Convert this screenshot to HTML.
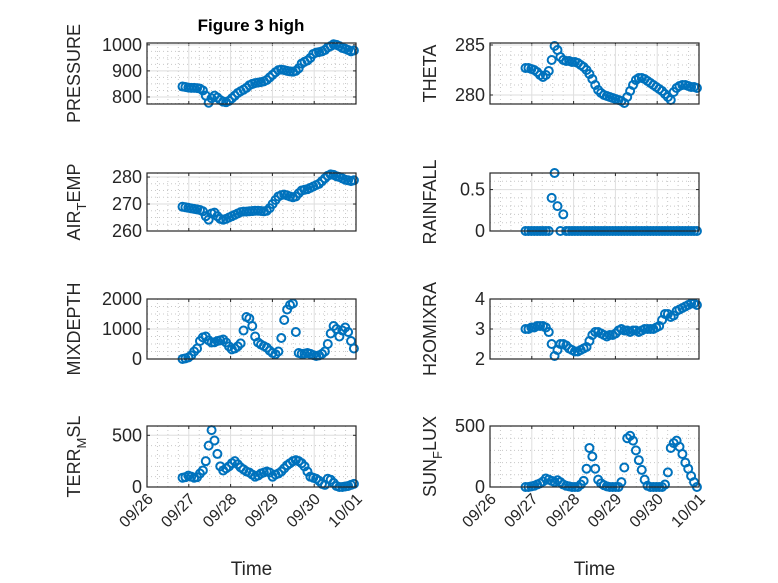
<!DOCTYPE html>
<html><head><meta charset="utf-8"><style>
body{margin:0;background:#fff;}
svg{display:block;font-family:"Liberation Sans","DejaVu Sans",sans-serif;}
</style></head><body>
<svg id="fig" width="778" height="583" viewBox="0 0 778 583" xmlns="http://www.w3.org/2000/svg">
<rect width="778" height="583" fill="#fff"/>
<text x="251" y="31" text-anchor="middle" font-size="17" font-weight="bold" fill="#000">Figure 3 high</text>
</svg>
<script>
const xTickLabels = ["09/26","09/27","09/28","09/29","09/30","10/01"];
const tStart = 0.85, tStep = 0.0695;
const pressure = [840,838,836,835,835,834,832,825,805,778,795,805,798,788,782,780,785,795,805,815,822,828,835,845,850,853,855,857,860,865,875,885,895,903,905,903,900,898,897,900,910,928,935,940,950,965,970,972,975,980,990,995,1002,1000,995,988,985,980,975,978];
const theta = [282.7,282.7,282.6,282.5,282.3,282.0,281.8,282.0,282.4,283.5,284.9,284.5,283.8,283.5,283.4,283.4,283.3,283.3,283.2,283.0,282.8,282.5,282.1,281.6,281.0,280.5,280.2,280.0,279.9,279.8,279.7,279.6,279.5,279.4,279.2,279.8,280.4,281.0,281.5,281.7,281.7,281.6,281.4,281.2,281.0,280.8,280.6,280.4,280.1,279.8,279.5,280.3,280.7,280.9,281.0,281.0,280.9,280.8,280.8,280.7];
const airTemp = [269,268.8,268.6,268.4,268.2,268,267.8,267.3,265.5,264.2,266.5,266.8,265.5,264.5,264.2,264.5,265,265.5,266,266.5,267,267.2,267.2,267.3,267.4,267.5,267.5,267.4,267.3,267.5,268.5,270,271.5,272.8,273.3,273.5,273.2,272.8,272.5,272.8,274,275,275.3,275.5,276,276.5,277,277.5,278.5,279.5,280.5,281,280.8,280.3,280,279.5,279,278.8,278.5,278.8];
const rainfall = [0,0,0,0,0,0,0,0,0,0.4,0.7,0.3,0,0.2,0,0,0,0,0,0,0,0,0,0,0,0,0,0,0,0,0,0,0,0,0,0,0,0,0,0,0,0,0,0,0,0,0,0,0,0,0,0,0,0,0,0,0,0,0,0];
const mixDepth = [0,20,50,120,250,350,600,720,750,620,550,560,600,620,650,550,420,320,350,420,520,950,1400,1350,1100,750,550,480,430,380,280,200,160,250,700,1300,1650,1800,1850,900,200,170,180,200,170,130,100,120,170,250,500,850,1100,1000,750,950,1050,900,600,350];
const h2oMix = [3.0,3.0,3.05,3.05,3.1,3.1,3.1,3.05,2.9,2.5,2.1,2.3,2.5,2.5,2.45,2.35,2.3,2.25,2.25,2.3,2.35,2.4,2.6,2.8,2.9,2.9,2.85,2.8,2.75,2.8,2.8,2.85,2.95,3.0,2.95,2.95,2.9,2.95,2.95,2.9,2.95,3.0,3.0,3.0,3.0,3.05,3.1,3.3,3.5,3.5,3.4,3.45,3.6,3.65,3.7,3.75,3.8,3.85,3.85,3.8];
const terrMsl = [90,95,110,100,90,95,130,160,250,400,550,450,320,200,160,180,200,230,250,220,190,170,150,140,120,100,110,130,140,150,140,100,120,130,150,180,210,230,250,260,250,230,200,150,100,90,80,60,30,20,80,70,40,10,0,0,5,10,20,30];
const sunFlux = [0,0,5,10,20,30,45,70,60,50,40,55,40,20,10,5,0,0,0,20,50,150,320,250,150,60,30,15,5,0,0,0,0,40,160,400,420,380,300,220,140,60,10,0,0,0,0,0,20,120,320,360,380,330,270,200,150,90,40,0];

const NS="http://www.w3.org/2000/svg";
const svg=document.getElementById('fig');
function mk(tag,attrs,parent){const e=document.createElementNS(NS,tag);for(const k in attrs)e.setAttribute(k,attrs[k]);(parent||svg).appendChild(e);return e;}

const panels=[
 {name:'pressure',data:pressure,x0:147,x1:356,y0:43,y1:104,ymin:773,ymax:1007,ticks:[800,900,1000],minor:25,label:['PRESSURE'],lx:80,bottom:false},
 {name:'theta',data:theta,x0:490,x1:699,y0:43,y1:104,ymin:279.1,ymax:285.2,ticks:[280,285],minor:1,label:['THETA'],lx:436,bottom:false},
 {name:'air-temp',data:airTemp,x0:147,x1:356,y0:173,y1:231,ymin:260,ymax:281.5,ticks:[260,270,280],minor:2.5,label:['AIR','T','EMP'],lx:80,bottom:false},
 {name:'rainfall',data:rainfall,x0:490,x1:699,y0:173,y1:231,ymin:0,ymax:0.7,ticks:[0,0.5],minor:0.1,label:['RAINFALL'],lx:436,bottom:false},
 {name:'mixdepth',data:mixDepth,x0:147,x1:356,y0:299,y1:359,ymin:0,ymax:2000,ticks:[0,1000,2000],minor:250,label:['MIXDEPTH'],lx:80,bottom:false},
 {name:'h2o-mix',data:h2oMix,x0:490,x1:699,y0:299,y1:359,ymin:2,ymax:4,ticks:[2,3,4],minor:0.25,label:['H2OMIXRA'],lx:436,bottom:false},
 {name:'terr-msl',data:terrMsl,x0:147,x1:356,y0:426,y1:487,ymin:0,ymax:590,ticks:[0,500],minor:100,label:['TERR','M','SL'],lx:80,bottom:true},
 {name:'sun-flux',data:sunFlux,x0:490,x1:699,y0:426,y1:487,ymin:0,ymax:500,ticks:[0,500],minor:100,label:['SUN','F','LUX'],lx:436,bottom:true}
];

panels.forEach(p=>{
 const g=mk('g',{});
 
 
 const xs=t=>p.x0+(p.x1-p.x0)*t/5;
 const ys=v=>p.y1-(p.y1-p.y0)*(v-p.ymin)/(p.ymax-p.ymin);
 for(let t=0.25;t<5;t+=0.25){ if(Math.abs(t-Math.round(t))<1e-6) continue;
  mk('line',{x1:xs(t),x2:xs(t),y1:p.y0,y2:p.y1,stroke:'#c8c8c8','stroke-width':1,'stroke-dasharray':'1,3'},g);}
 for(let v=Math.ceil(p.ymin/p.minor)*p.minor;v<p.ymax;v+=p.minor){ if(p.ticks.some(k=>Math.abs(k-v)<1e-9)) continue;
  mk('line',{x1:p.x0,x2:p.x1,y1:ys(v),y2:ys(v),stroke:'#c8c8c8','stroke-width':1,'stroke-dasharray':'1,3'},g);}
 xTickLabels.forEach((lab,i)=>{const x=xs(i);
  mk('line',{x1:x,x2:x,y1:p.y0,y2:p.y1,stroke:'#dedede','stroke-width':1},g);
  mk('line',{x1:x,x2:x,y1:p.y1,y2:p.y1-3,stroke:'#262626'},g);
  mk('line',{x1:x,x2:x,y1:p.y0,y2:p.y0+3,stroke:'#262626'},g);
  if(p.bottom){const ax=x+7, ay=p.y1+13;
   const tx=mk('text',{x:ax,y:ay,'text-anchor':'end','font-size':16,fill:'#262626',transform:`rotate(-45 ${ax} ${ay})`},g);
   tx.textContent=lab;
   
   }
 });
 p.ticks.forEach(v=>{const y=ys(v);
  mk('line',{x1:p.x0,x2:p.x1,y1:y,y2:y,stroke:'#dedede','stroke-width':1},g);
  mk('line',{x1:p.x0,x2:p.x0+3,y1:y,y2:y,stroke:'#262626'},g);
  mk('line',{x1:p.x1,x2:p.x1-3,y1:y,y2:y,stroke:'#262626'},g);
  const tx=mk('text',{x:p.x0-5,y:y+6,'text-anchor':'end','font-size':18,fill:'#262626'},g);
  tx.textContent=String(v);
  
  
 });
 p.data.forEach((v,i)=>{const t=tStart+tStep*i;
  const c=mk('circle',{cx:xs(t),cy:ys(v),r:4,fill:'none',stroke:'#0072BD','stroke-width':2},g);
  
  
 });
 mk('rect',{x:p.x0,y:p.y0,width:p.x1-p.x0,height:p.y1-p.y0,fill:'none',stroke:'#262626','stroke-width':1.2},g);
 const cy=(p.y0+p.y1)/2;
 const lab=mk('text',{x:p.lx,y:cy,'text-anchor':'middle','font-size':18,fill:'#262626',transform:`rotate(-90 ${p.lx} ${cy})`},g);
 
 
 if(p.label.length===1){lab.textContent=p.label[0];}
 else{const a=mk('tspan',{},lab);a.textContent=p.label[0];
  const b=mk('tspan',{dy:6,'font-size':13},lab);b.textContent=p.label[1];
  const c=mk('tspan',{dy:-6},lab);c.textContent=p.label[2];}
 if(p.bottom){const tl=mk('text',{x:(p.x0+p.x1)/2,y:575,'text-anchor':'middle','font-size':19,fill:'#262626'},g);
  tl.textContent='Time';
  
  }
});
</script>
</body></html>
